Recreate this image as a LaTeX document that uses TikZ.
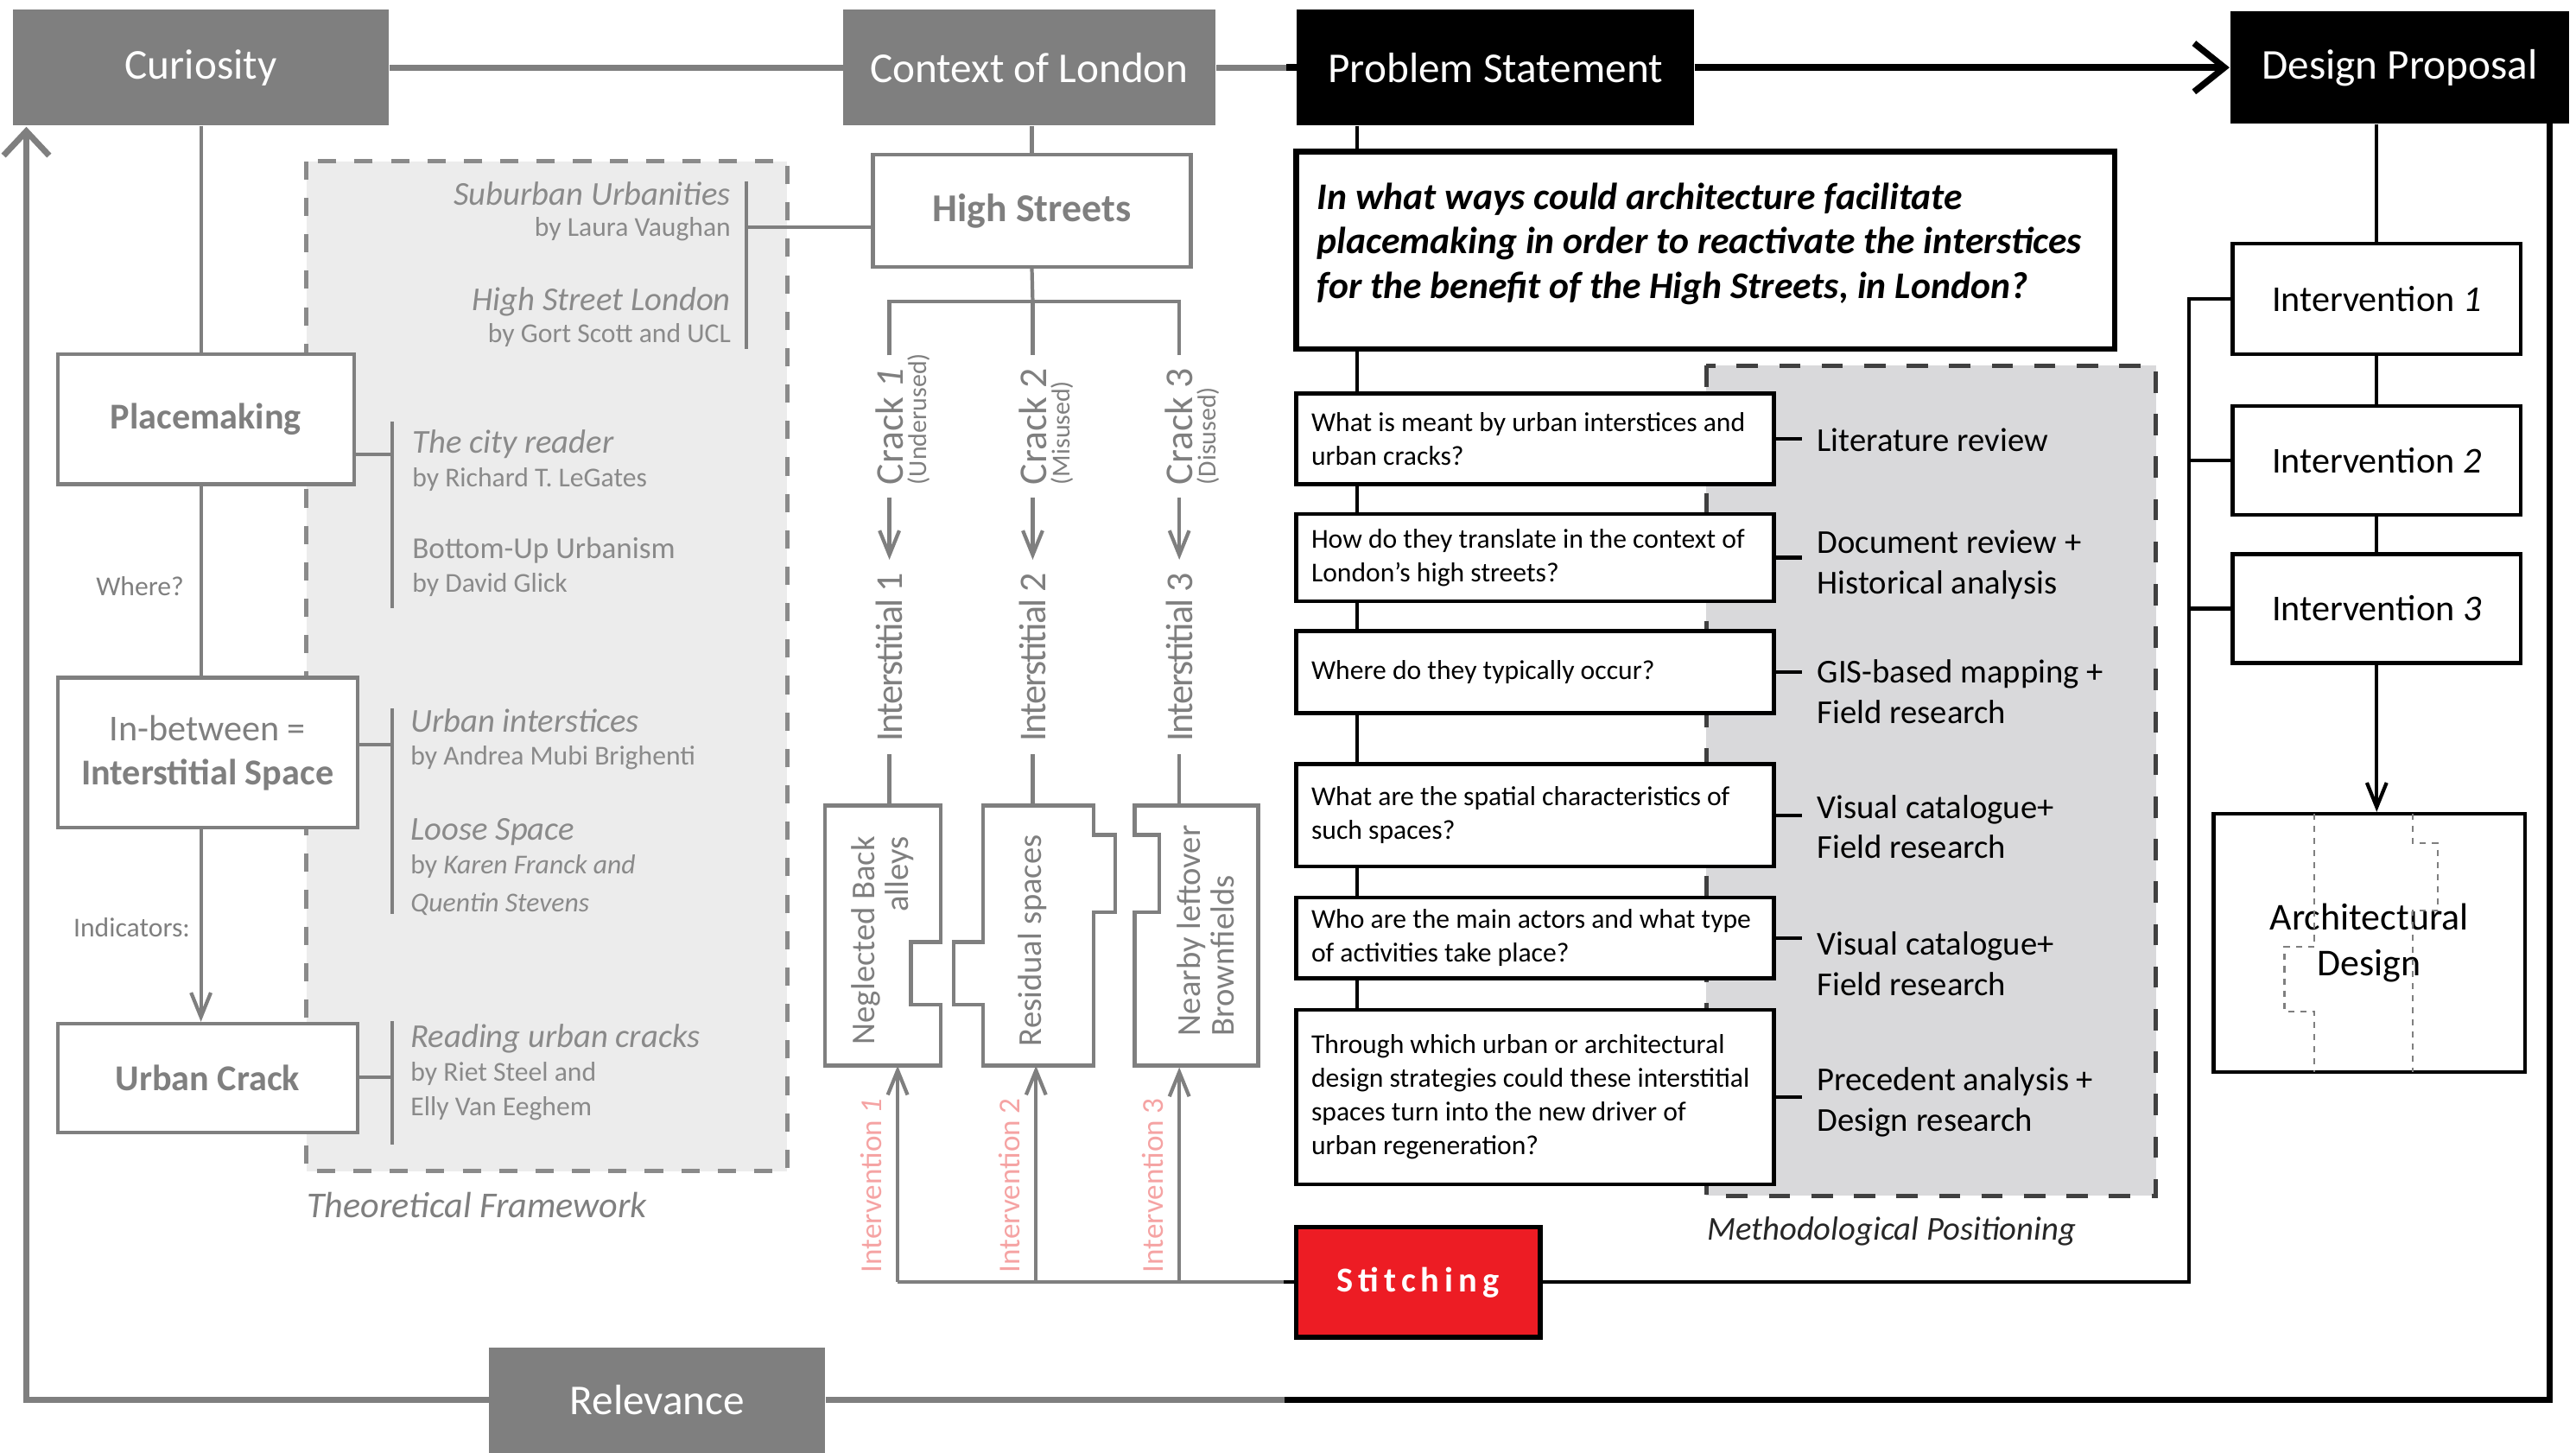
\documentclass[tikz,border=0pt]{standalone}
\usepackage{fontspec}
\setmainfont{Carlito}
\newfontfamily\spacedfont[LetterSpace=15]{Carlito}
\newfontfamily\tightfont[LetterSpace=-4]{Carlito}
\usetikzlibrary{arrows.meta}

\definecolor{boxgrey}{HTML}{7F7F7F}
\definecolor{refgrey}{HTML}{8A8A8A}
\definecolor{tffill}{HTML}{ECECEC}
\definecolor{mpfill}{HTML}{D9D9DB}
\definecolor{mpedge}{HTML}{404040}
\definecolor{stitchred}{HTML}{ED1C24}
\definecolor{pinklbl}{HTML}{F5A3A3}

\newlength{\dpx}
\setlength{\dpx}{0.19066mm}
\newcommand{\setfs}[2]{\fontsize{#1}{#2}\selectfont}

\begin{document}
\begin{tikzpicture}[x=\dpx, y=-\dpx,
    sz/.style 2 args={minimum width=#1\dpx, minimum height=#2\dpx},
    smallbarb/.tip={Straight Barb[length=8pt,width=6.5pt]},
    bigbarb/.tip={Straight Barb[length=10pt,width=16pt]},
    loopbarb/.tip={Straight Barb[length=8pt,width=15pt]},
    thickgrey/.style={draw=boxgrey, line width=2pt},
    thickblack/.style={draw=black, line width=2.1pt},
    greyline/.style={draw=boxgrey, line width=1.2pt},
    blkline/.style={draw=black, line width=1.2pt},
    headbox/.style={fill=boxgrey, text=white, inner sep=0pt, font=\setfs{14}{16}},
    greyframe/.style={draw=boxgrey, line width=1.25pt, fill=white, text=boxgrey, inner sep=0pt, align=center},
    reftitle/.style={text=refgrey, inner sep=0pt, font=\itshape\setfs{11}{13}},
    refby/.style={text=refgrey, inner sep=0pt, font=\setfs{9}{11}},
    smalllbl/.style={text=boxgrey, inner sep=0pt, font=\setfs{9}{11}},
    cracklbl/.style={rotate=90, anchor=west, text=boxgrey, inner xsep=4pt, inner ysep=0pt, font=\setfs{13}{15}},
    sublbl/.style={rotate=90, anchor=north west, text=boxgrey, inner xsep=4pt, inner ysep=1pt, font=\setfs{8.5}{10}},
    boxlbl/.style={rotate=90, text=boxgrey, inner sep=0pt, font=\setfs{11}{11}},
    pinkiv/.style={rotate=90, anchor=west, text=pinklbl, inner sep=0pt, font=\setfs{10}{12}},
    puzzle/.style={draw=boxgrey, line width=1.25pt, fill=white},
    tfbox/.style={draw=refgrey, line width=1.4pt, dash pattern=on 6pt off 6pt, fill=tffill},
    mpbox/.style={draw=mpedge, line width=1.5pt, dash pattern=on 7pt off 7pt, fill=mpfill},
    qbox/.style={draw=black, line width=1.3pt, fill=white, inner sep=0pt},
    qtext/.style={anchor=west, align=left, inner xsep=10\dpx, inner ysep=0pt, font=\setfs{9}{11.1}},
    mqtext/.style={anchor=west, align=left, inner xsep=14\dpx, inner ysep=0pt, yshift=4\dpx, font=\bfseries\itshape\setfs{12.4}{14.6}},
    methlbl/.style={anchor=west, inner xsep=9\dpx, inner ysep=0pt, align=left, font=\setfs{11}{13.3}},
    ivbox/.style={draw=black, line width=1.2pt, fill=white, inner sep=0pt, align=center, font=\setfs{12}{14}},
    puzzledash/.style={draw=boxgrey, line width=0.6pt, dash pattern=on 2pt off 2pt}]

    \useasboundingbox (0,0) rectangle (1564,882);

    % backgrounds of the two frameworks
    \draw[tfbox] (186,98) rectangle (478,711);
    \draw[mpbox] (1036,222) rectangle (1309,726);
    \node[text=boxgrey, anchor=base west, inner sep=0pt, font=\itshape\setfs{12}{14}] (tflbl) at (186,739) {Theoretical Framework};
    \node[text=black!85, anchor=base west, inner sep=0pt, font=\itshape\setfs{11}{13}] (mplbl) at (1036,753) {Methodological Positioning};

    % top row
    \node[headbox, sz={228}{70}] (cur) at (122,41) {Curiosity};
    \node[headbox, sz={226}{70}] (ctx) at (625,41) {Context of London};
    \node[headbox, fill=black, sz={241}{70}] (ps) at (908,41) {Problem Statement};
    \node[headbox, fill=black, sz={206}{68}] (dp) at (1457,41) {Design Proposal};
    \node[headbox, sz={204}{64}] (rel) at (399,850) {Relevance};

    \draw[thickgrey] (cur) -- (ctx);
    \draw[thickgrey] (ctx) -- (ps);
    \draw[thickblack] (ps.west) -- ++(-6,0);
    \draw[thickblack, -bigbarb] (ps) -- (dp);

    % outer loop
    \coordinate (loopL) at (16,77);
    \coordinate (loopM) at (780,850);
    \coordinate (loopR) at (1548,75);
    \draw[thickgrey, -loopbarb] (rel.west) -| (loopL);
    \draw[thickgrey] (rel.east) -- (loopM);
    \draw[thickblack] (loopM) -| (loopR);

    % left column
    \node[greyframe, sz={180}{79}, font=\bfseries\setfs{12}{14}] (place) at (125,254.5) {Placemaking};
    \node[greyframe, sz={182}{91}, font=\setfs{12}{14.6}] (inbet) at (126,457) {In-between =\\\textbf{Interstitial Space}};
    \node[greyframe, sz={182}{66}, font=\bfseries\setfs{12}{14}] (crack) at (126,654.5) {Urban Crack};

    \draw[greyline] (cur.south) -- (cur.south |- place.north);
    \draw[greyline] (cur.south |- place.south) -- (cur.south |- inbet.north);
    \draw[greyline, -smallbarb] (cur.south |- inbet.south) -- (cur.south |- crack.north);
    \node[smalllbl] (where) at (85,356) {Where?};
    \node[smalllbl] (indic) at (80,563) {Indicators:};

    % references
    \node[reftitle, anchor=base east] (su) at (444,124.5) {Suburban Urbanities};
    \node[refby, anchor=base east] (suby) at (444,143.5) {by Laura Vaughan};
    \node[reftitle, anchor=base east] (hsl) at (444,188.5) {High Street London};
    \node[refby, anchor=base east] (hslby) at (444,208) {by Gort Scott and UCL};
    \node[reftitle, anchor=base west] (city) at (250,275) {The city reader};
    \node[refby, anchor=base west] (cityby) at (250,295.5) {by Richard T. LeGates};
    \node[refby, anchor=base west, font=\setfs{10}{12}] (bu) at (250,339) {Bottom-Up Urbanism};
    \node[refby, anchor=base west] (buby) at (250,359.5) {by David Glick};
    \node[reftitle, anchor=base west] (ui) at (249,444.5) {Urban interstices};
    \node[refby, anchor=base west] (uiby) at (249,464.5) {by Andrea Mubi Brighenti};
    \node[reftitle, anchor=base west] (ls) at (249,510) {Loose Space};
    \node[refby, anchor=base west] (lsby) at (249,530.5) {by \textit{Karen Franck and}};
    \node[refby, anchor=base west] (lsby2) at (249,553.5) {\textit{Quentin Stevens}};
    \node[reftitle, anchor=base west] (ruc) at (249,636) {Reading urban cracks};
    \node[refby, anchor=base west] (rucby) at (249,656.5) {by Riet Steel and};
    \node[refby, anchor=base west] (rucby2) at (249,677.5) {Elly Van Eeghem};

    \node[greyframe, sz={193}{68}, font=\bfseries\setfs{13}{15}] (hs) at (626.5,128) {High Streets};
    \draw[greyline] (hs.north |- ctx.south) -- (hs.north);

    \coordinate (tA) at (453,138);
    \draw[greyline] (453,110) -- (453,212);
    \draw[greyline] (tA) -- (tA -| hs.west);
    \foreach \y/\a/\b/\bx in {276/256/369/place, 452/430/555/inbet, 654/620/695/crack} {
        \draw[greyline] (238,\a) -- (238,\b);
        \draw[greyline] (\bx.east |- 0,\y) -- (238,\y);
    }

    % cracks
    \node[cracklbl] (cr1) at (540,302) {Crack \textit{1}};
    \node[cracklbl] (cr2) at (627,302) {Crack 2};
    \node[cracklbl] (cr3) at (716,302) {Crack 3};
    \node[sublbl] (sub1) at (cr1.south west) {(Underused)};
    \node[sublbl] (sub2) at (cr2.south west) {(Misused)};
    \node[sublbl] (sub3) at (cr3.south west) {(Disused)};
    \node[cracklbl, font=\tightfont\setfs{12.5}{14}] (in1) at (540,458) {Interstitial 1};
    \node[cracklbl, font=\tightfont\setfs{12.5}{14}] (in2) at (627,458) {Interstitial 2};
    \node[cracklbl, font=\tightfont\setfs{12.5}{14}] (in3) at (716,458) {Interstitial 3};

    \coordinate (fork) at (627,183);
    \draw[greyline] (hs.south) -- (fork);
    \draw[greyline] (cr1.east) |- (fork) -| (cr3.east);
    \draw[greyline] (fork) -- (cr2.east);
    \foreach \i in {1,2,3}
        \draw[greyline, -smallbarb] (cr\i.west) -- (in\i.east);

    % puzzle pieces
    \coordinate (b1top) at (540,489);
    \coordinate (b2top) at (627,489);
    \coordinate (b3top) at (716,489);
    \draw[puzzle] (501,489) -- (571,489) -- (571,572) -- (553,572) -- (553,610) -- (571,610) -- (571,647) -- (501,647) -- cycle;
    \draw[puzzle] (597,489) -- (664,489) -- (664,507) -- (677,507) -- (677,554) -- (664,554) -- (664,647) -- (597,647) -- (597,610) -- (579,610) -- (579,572) -- (597,572) -- cycle;
    \draw[puzzle] (689,489) -- (764,489) -- (764,647) -- (689,647) -- (689,554) -- (704,554) -- (704,507) -- (689,507) -- cycle;
    \node[boxlbl, align=right] (nb) at (536,571) {Neglected Back\\alleys};
    \node[boxlbl] (rs) at (627,571) {Residual spaces};
    \node[boxlbl, align=left] (nl) at (732,565) {Nearby leftover\\Brownfields};
    \foreach \i in {1,2,3}
        \draw[greyline] (in\i.west) -- (b\i top);

    % stitching and interventions
    \node[draw=black, line width=1.6pt, fill=stitchred, text=white, inner sep=0pt, sz={148}{67}, font=\spacedfont\bfseries\setfs{11.5}{14}] (stitch) at (861,778.5) {Stitching};
    \coordinate (b1bot) at (545,647);
    \coordinate (b2bot) at (629,647);
    \coordinate (b3bot) at (716,648);
    \draw[greyline] (stitch.west) -- (stitch.west -| b1bot);
    \draw[blkline] (stitch.west) -- ++(-6,0);
    \foreach \b in {b1bot,b2bot,b3bot}
        \draw[greyline, -smallbarb] (\b |- stitch.west) -- (\b);
    \node[pinkiv] (iv1) at (529,773) {Intervention \textit{1}};
    \node[pinkiv] (iv2) at (613,773) {Intervention 2};
    \node[pinkiv] (iv3) at (700,773) {Intervention 3};

    % problem statement and research questions
    \node[draw=black, line width=1.8pt, fill=white, inner sep=0pt, sz={497}{120},
        label={[mqtext]west:{In what ways could architecture facilitate\\placemaking in order to reactivate the interstices\\for the benefit of the High Streets, in London?}}] (mq) at (1035.5,152) {};
    \node[qbox, sz={290}{55}, label={[qtext]west:{What is meant by urban interstices and\\urban cracks?}}] (q1) at (932,266.5) {};
    \node[qbox, sz={290}{53}, label={[qtext]west:{How do they translate in the context of\\London’s high streets?}}] (q2) at (932,338.5) {};
    \node[qbox, sz={290}{50}, label={[qtext]west:{Where do they typically occur?}}] (q3) at (932,408) {};
    \node[qbox, sz={290}{62}, label={[qtext]west:{What are the spatial characteristics of\\such spaces?}}] (q4) at (932,495) {};
    \node[qbox, sz={290}{49}, label={[qtext]west:{Who are the main actors and what type\\of activities take place?}}] (q5) at (932,569.5) {};
    \node[qbox, sz={290}{106}, label={[qtext]west:{Through which urban or architectural\\design strategies could these interstitial\\spaces turn into the new driver of\\urban regeneration?}}] (q6) at (932,666) {};

    \coordinate (qx) at (824,0);
    \foreach \a/\b in {ps/mq,mq/q1,q1/q2,q2/q3,q3/q4,q4/q5,q5/q6}
        \draw[blkline] (\a.south -| qx) -- (\b.north -| qx);

    \node[methlbl] (m1) at (1094,267) {Literature review};
    \node[methlbl] (m2) at (1094,343) {Document review +\\Historical analysis};
    \node[methlbl] (m3) at (1094,420) {GIS-based mapping +\\Field research};
    \node[methlbl] (m4) at (1094,502) {Visual catalogue+\\Field research};
    \node[methlbl] (m5) at (1094,585) {Visual catalogue+\\Field research};
    \node[methlbl] (m6) at (1094,669) {Precedent analysis +\\Design research};
    \foreach \i in {1,...,6}
        \draw[blkline] (q\i.east) -- (q\i.east -| m\i.west);

    % design proposal
    \node[ivbox, sz={175}{67}] (int1) at (1443,181.5) {Intervention \textit{1}};
    \node[ivbox, sz={175}{66}] (int2) at (1443,279.5) {Intervention \textit{2}};
    \node[ivbox, sz={175}{66}] (int3) at (1443,369.5) {Intervention \textit{3}};
    \node[ivbox, sz={189}{157}, font=\setfs{12.5}{15}] (arch) at (1438.5,572.5) {Architectural\\Design};
    \draw[puzzledash] (1405,494) |- (1387,575) |- (1405,614) -- (1405,651);
    \draw[puzzledash] (1465,494) |- (1480,512) |- (1465,553) -- (1465,651);

    \draw[blkline] (int1.north |- dp.south) -- (int1.north);
    \draw[blkline] (int1) -- (int2);
    \draw[blkline] (int2) -- (int3);
    \draw[blkline, -smallbarb] (int3.south) -- (int3.south |- arch.north);

    \coordinate (spine) at (1329,0);
    \draw[blkline] (stitch.east) -| (spine |- int1.west) -- (int1.west);
    \draw[blkline] (spine |- int2.west) -- (int2.west);
    \draw[blkline] (spine |- int3.west) -- (int3.west);
\end{tikzpicture}
\end{document}
